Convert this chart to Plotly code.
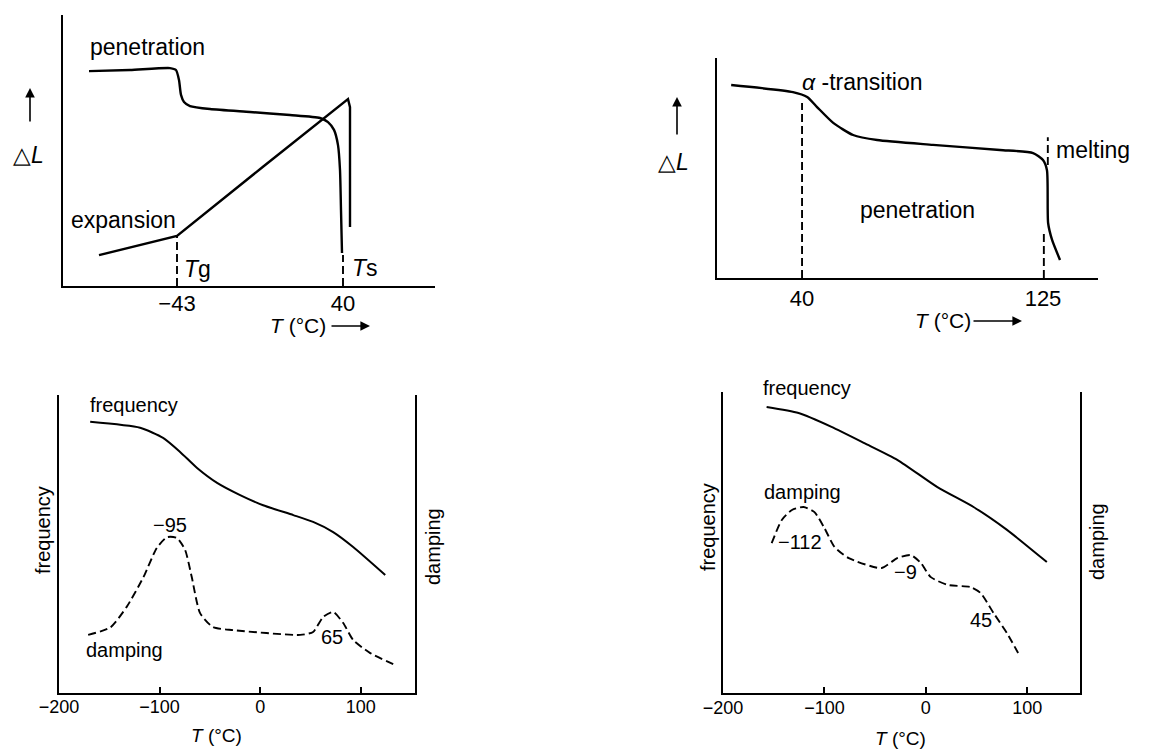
import plotly.graph_objects as go

# ---------------- data ----------------
# Top-left: thermomechanical analysis (penetration / expansion)
TL_PEN_X = [-87, -66.5, -46.5, -43.5, -42, -41, -39.5, -36.5, -26.5, -6.5, 13.5, 28.5, 32.5, 35.5, 37.5, 38.5, 39, 39.5]
TL_PEN_Y = [79.3, 79.7, 80.4, 79.7, 76, 70.5, 67.9, 66.4, 65.3, 64.2, 63.1, 62, 60.5, 57.6, 52, 42.8, 28, 12.2]
TL_EXP_X = [-82, -43, 0, 42.5, 43.5, 43.5]
TL_EXP_Y = [11.4, 18.5, 44.0, 69, 66, 21.8]
TL_TG = -43
TL_TS = 40
TL_TG_TOP = 18.5
TL_TS_TOP = 11.4
TL_TICKS = [-43, 40]
TL_TICKTEXT = ["\u221243", "40"]

# Top-right: penetration with alpha-transition and melting
TR_PEN_X = [15, 36.8, 41.8, 45.3, 51, 58, 66.5, 86.2, 109.8, 121.5, 125, 126.4, 126.8, 128.2, 131]
TR_PEN_Y = [87.7, 84.5, 82.3, 77.7, 70.5, 65, 62.7, 60.5, 58.2, 56.8, 53.6, 49, 25, 17.3, 8.2]
TR_ALPHA = 40
TR_ALPHA_TOP = 79.5
TR_MELT_UP_X = 126.7
TR_MELT_UP_Y = [51.4, 64]
TR_MELT_LO_X = 125.3
TR_MELT_LO_Y = [0, 20.5]
TR_TICKS = [40, 125]
TR_TICKTEXT = ["40", "125"]

# Bottom-left: dynamic mechanical analysis
BL_FREQ_X = [-169, -119.4, -96.5, -79.6, -62.7, -42.8, -19.9, 3, 33, 52.7, 72.6, 92.5, 124.4]
BL_FREQ_Y = [91, 89, 85.6, 80.9, 75.5, 70.5, 66.4, 63, 59.7, 57.4, 54, 49, 39.6]
BL_DAMP_X = [-171, -149, -132.7, -116, -102.7, -92.5, -82.6, -74.6, -68, -59.7, -46.8, -26.9, 39.8, 52.7, 62.7, 72.6, 82.6, 92.5, 109.5, 134.3]
BL_DAMP_Y = [19.5, 22, 28.9, 38.9, 48.7, 52.3, 52, 48, 38.9, 26.8, 22.1, 21.1, 19.5, 20.5, 25.5, 27.2, 23.5, 17.8, 13.4, 9.4]

# Bottom-right
BR_FREQ_X = [-157, -125.5, -93, -60.6, -27.8, 11.4, 47, 80, 119.3]
BR_FREQ_Y = [95, 93, 88.4, 83, 77.4, 68.4, 61.8, 54.2, 43.5]
BR_DAMP_X = [-152, -142, -132, -120.6, -109.8, -100, -90, -76.5, -44, -27.8, -14.7, -4.9, 4.9, 21.6, 44, 54, 66.7, 80, 91]
BR_DAMP_Y = [49.8, 57.5, 60.8, 61.8, 60.1, 54.8, 48.5, 44.9, 41.5, 44.9, 45.8, 43.2, 38.5, 35.9, 35.2, 33.2, 26.6, 19.9, 13.3]

B_TICKS = [-200, -100, 0, 100]
B_TICKTEXT = ["\u2212200", "\u2212100", "0", "100"]

# ---------------- layout helpers ----------------
W, H = 1176, 749
FONT = "Liberation Sans, Arial, sans-serif"
BIG = 23
BIGTICK = 22
AXT = 21
SMALL = 20
SMALLTICK = 18
SMALLAXT = 19


def fx(px):
    return px / W


def fy(py):
    return 1 - py / H


SOLID = dict(color="black", width=2.4)
THIN = dict(color="black", width=2.0)
DASH = dict(color="black", width=1.9, dash="8px,4px")

fig = go.Figure()


def add_line(x, y, ax, line, shape="spline"):
    ln = dict(line)
    ln["shape"] = shape
    if shape == "spline":
        ln["smoothing"] = 0.6
    fig.add_trace(go.Scatter(x=x, y=y, mode="lines", line=ln,
                             xaxis=ax[0], yaxis=ax[1], showlegend=False, hoverinfo="skip"))


# top-left
add_line(TL_PEN_X, TL_PEN_Y, ("x", "y"), SOLID)
add_line(TL_EXP_X, TL_EXP_Y, ("x", "y"), SOLID, shape="linear")
add_line([TL_TG, TL_TG], [0, TL_TG_TOP], ("x", "y"), DASH, shape="linear")
add_line([TL_TS, TL_TS], [0, TL_TS_TOP], ("x", "y"), DASH, shape="linear")

# top-right
add_line(TR_PEN_X, TR_PEN_Y, ("x2", "y2"), SOLID)
add_line([TR_ALPHA, TR_ALPHA], [0, TR_ALPHA_TOP], ("x2", "y2"), DASH, shape="linear")
add_line([TR_MELT_UP_X, TR_MELT_UP_X], TR_MELT_UP_Y, ("x2", "y2"), DASH, shape="linear")
add_line([TR_MELT_LO_X, TR_MELT_LO_X], TR_MELT_LO_Y, ("x2", "y2"), DASH, shape="linear")

# bottom-left
add_line(BL_FREQ_X, BL_FREQ_Y, ("x3", "y3"), THIN)
add_line(BL_DAMP_X, BL_DAMP_Y, ("x3", "y3"), DASH)

# bottom-right
add_line(BR_FREQ_X, BR_FREQ_Y, ("x4", "y4"), THIN)
add_line(BR_DAMP_X, BR_DAMP_Y, ("x4", "y4"), DASH)


def xax(domain, rng, tickvals, ticktext, size, ticks, anchor, standoff):
    return dict(domain=domain, range=rng, showgrid=False, zeroline=False, showline=True,
                linecolor="black", linewidth=2, tickvals=tickvals, ticktext=ticktext,
                ticks=ticks, ticklen=6, tickwidth=1.5, tickcolor="black", anchor=anchor,
                automargin=False, ticklabelstandoff=standoff,
                tickfont=dict(family=FONT, size=size, color="black"), fixedrange=True)


def yax(domain, anchor, mirror=False):
    return dict(domain=domain, range=[0, 100], showgrid=False, zeroline=False, showline=True,
                linecolor="black", linewidth=2, showticklabels=False, ticks="", anchor=anchor,
                automargin=False, mirror=mirror, fixedrange=True)


layout = dict(
    width=W, height=H, margin=dict(l=0, r=0, t=0, b=0, pad=0, autoexpand=False),
    paper_bgcolor="white", plot_bgcolor="white", showlegend=False,
    xaxis=xax([fx(63), fx(435)], [-100, 86], TL_TICKS, TL_TICKTEXT, BIGTICK, "", "y", -3),
    yaxis=yax([fy(286), fy(15)], "x"),
    xaxis2=xax([fx(717), fx(1098)], [10, 144.4], TR_TICKS, TR_TICKTEXT, BIGTICK, "", "y2", 0),
    yaxis2=yax([fy(278), fy(58)], "x2"),
    xaxis3=xax([fx(59), fx(415)], [-200, 154], B_TICKS, B_TICKTEXT, SMALLTICK, "inside", "y3", -4),
    yaxis3=yax([fy(693), fy(395)], "x3", mirror=True),
    xaxis4=xax([fx(723), fx(1080)], [-200, 152], B_TICKS, B_TICKTEXT, SMALLTICK, "inside", "y4", -3),
    yaxis4=yax([fy(693), fy(392)], "x4", mirror=True),
)

anns = []


def text(t, px, py, size, xanchor="center", angle=0):
    anns.append(dict(text=t, x=fx(px), y=fy(py), xref="paper", yref="paper", showarrow=False,
                     xanchor=xanchor, yanchor="middle", textangle=angle,
                     font=dict(family=FONT, size=size, color="black")))


def arrow(tx, ty, hx, hy):
    anns.append(dict(text="", x=fx(hx), y=fy(hy), xref="paper", yref="paper",
                     ax=tx - hx, ay=ty - hy, axref="pixel", ayref="pixel",
                     showarrow=True, arrowhead=2, arrowsize=1.2, arrowwidth=1.6, arrowcolor="black"))


# top-left texts
text("penetration", 147, 47, BIG)
text("expansion", 123, 220, BIG)
text("<i>T</i>g", 182, 269, BIG, xanchor="left")
text("<i>T</i>s", 350, 268, BIG, xanchor="left")
text("\u25b3<i>L</i>", 28, 155, BIG)
arrow(30, 123, 30, 88)
text("<i>T</i> (°C)", 268, 325, AXT, xanchor="left")
arrow(330, 326, 370, 326)

# top-right texts
text("<i>α</i> -transition", 800, 82, BIG, xanchor="left")
text("melting", 1054, 150, BIG, xanchor="left")
text("penetration", 917, 210, BIG)
text("\u25b3<i>L</i>", 673, 162, BIG)
arrow(677, 136, 677, 97)
text("<i>T</i> (°C)", 913, 320, AXT, xanchor="left")
arrow(972, 321, 1022, 321)

# bottom-left texts
text("frequency", 134, 405, SMALL)
text("\u221295", 170, 525, SMALL)
text("damping", 125, 650, SMALL)
text("65", 332, 637, SMALL)
text("frequency", 43, 530, SMALL, angle=-90)
text("damping", 433, 547, SMALL, angle=-90)
text("<i>T</i> (°C)", 216, 735, SMALLAXT)

# bottom-right texts
text("frequency", 807, 388, SMALL)
text("damping", 802, 492, SMALL)
text("\u2212112", 800, 542, SMALL)
text("\u22129", 905, 572, SMALL)
text("45", 981, 620, SMALL)
text("frequency", 708, 527, SMALL, angle=-90)
text("damping", 1097, 542, SMALL, angle=-90)
text("<i>T</i> (°C)", 900, 738, SMALLAXT)

layout["annotations"] = anns
fig.update_layout(**layout)
fig.write_html("out.html")
